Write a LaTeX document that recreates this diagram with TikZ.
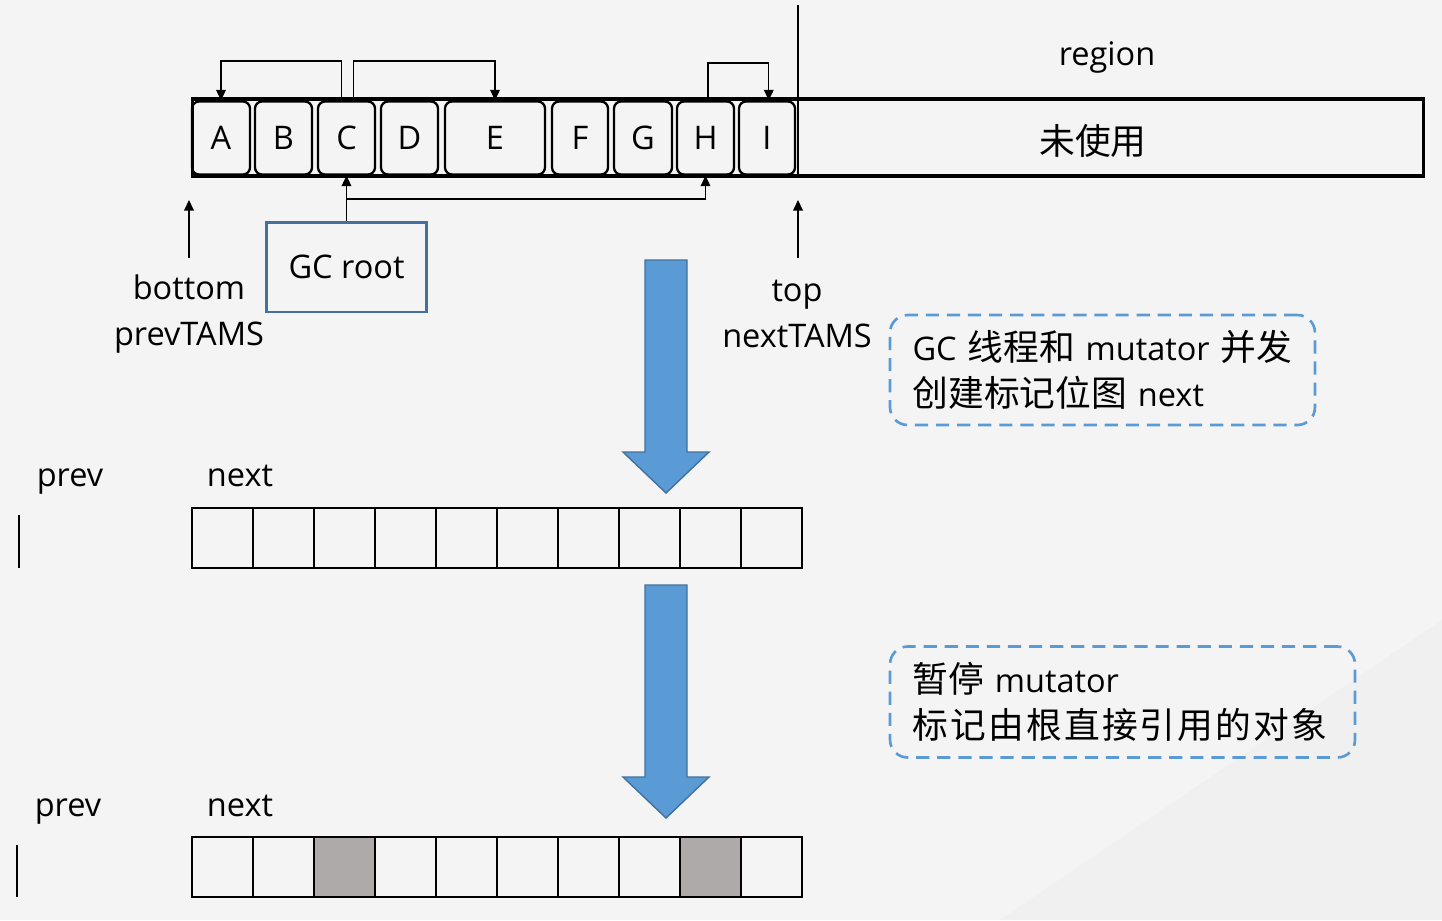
\documentclass[tikz,border=0pt]{standalone}
\usepackage{fontspec}
\setmainfont{Open Sans}
\newfontfamily\cjk[Scale=1.1]{Noto Sans CJK SC}
\newfontfamily\cjkwide[Scale=1.1, LetterSpace=6]{Noto Sans CJK SC}
\usetikzlibrary{positioning, calc, arrows.meta}

\definecolor{arrowblue}{HTML}{5B9BD5}
\definecolor{edgeblue}{HTML}{41719C}
\definecolor{markgray}{HTML}{AEAAAA}
\definecolor{bgpaper}{HTML}{F4F4F4}

\begin{document}
\begin{tikzpicture}[
    x=0.02cm, y=-0.02cm,
    % Styling
    base font/.style={font=\fontsize{18.5}{26}\selectfont},
    obj box/.style={
        draw,
        line width=1.3pt,
        rounded corners=4pt,
        minimum height=1.46cm,
        inner sep=0pt,
        base font
    },
    % Style for an empty bitmap cell
    bit cell/.style={
        draw,
        line width=1pt,
        minimum width=1.22cm,
        minimum height=1.2cm,
        inner sep=0pt
    },
    % Style for a marked bitmap cell
    bit marked/.style={
        bit cell,
        fill=markgray
    },
    ref arrow/.style={
        -{Triangle[length=6pt, width=5.5pt]},
        line width=0.8pt
    },
    note box/.style={
        draw=arrowblue,
        dash pattern=on 7.5pt off 4.5pt,
        line width=1.5pt,
        rounded corners=10pt,
        align=left,
        inner xsep=0.45cm,
        base font
    },
    big arrow/.style={
        fill=arrowblue,
        draw=edgeblue,
        line width=0.8pt
    }
]

% --- Background ---
\useasboundingbox (0,0) rectangle (1442,920);
\fill[bgpaper] (0,0) rectangle (1442,920);
\fill[black!6] (1000,920) -- (1442,620) -- (1442,920) -- cycle;

% --- The Region ---
\node[draw, line width=1.8pt, minimum width=24.64cm, minimum height=1.54cm, inner sep=0pt] (heap) at (808,137.5) {};
\node[base font, anchor=base] (region) at (1107,65) {region};
\node[base font] (unused) at (1093,141) {\cjk 未使用};
\draw[line width=1pt] (798,5) -- (798,176);

% Objects: Name / Center / Width
\foreach \name/\cx/\w in {A/221/58, B/283.5/57, C/346.5/57, D/409.5/57, E/495/100,
                          F/580/56, G/643/58, H/705.5/57, I/767/56} {
    \node[obj box, minimum width=\w*0.02cm] (\name) at (\cx,138) {\name};
}

% --- References between objects ---
\draw[ref arrow] ([xshift=-3pt]C.north) |- (A.north |- 0,61) -- (A.north);
\draw[ref arrow] ([xshift=4pt]C.north) |- (E.north |- 0,61) -- (E.north);
\draw[ref arrow] ([xshift=1.5pt]H.north) |- ([xshift=1pt]I.north |- 0,63) -- ([xshift=1pt]I.north);

% --- GC root ---
\node[draw=edgeblue, line width=1.7pt, minimum width=3.22cm, minimum height=1.8cm, base font] (root) at (346.5,267) {GC root};
\draw[ref arrow] (root.north) -- (C.south);
\draw[ref arrow] (root.north |- 0,199) -| (H.south);

% --- Pointers ---
\node[base font, align=center] (bot) at (189,314) {bottom\\prevTAMS};
\node[base font, align=center] (topptr) at (797,314) {top\\nextTAMS};
\draw[ref arrow] (bot.north |- 0,258) -- (bot.north |- 0,200);
\draw[ref arrow] (798,258) -- (798,200);

% --- Phase Arrows ---
\foreach \dy in {0, 325} {
    \draw[big arrow] (645,{260+\dy}) -- (687,{260+\dy}) -- (687,{452+\dy}) -- (709,{452+\dy})
        -- (666,{493+\dy}) -- (623,{452+\dy}) -- (645,{452+\dy}) -- cycle;
}

% --- Notes ---
\node[note box, text width=7.6cm, minimum height=2.2cm] (note1) at (1102.5,370)
    {GC {\cjk 线程和} mutator {\cjk 并发}\\{\cjk 创建标记位图} next};
\node[note box, text width=8.4cm, minimum height=2.22cm] (note2) at (1122.5,702)
    {{\cjk 暂停} mutator\\{\cjkwide 标记由根直接引用的对象}};

% --- Bitmaps ---
\node[base font, anchor=base] (prev1) at (70,486) {prev};
\node[base font, anchor=base] (next1) at (240,486) {next};
\draw[line width=1pt] (19,515) -- (19,568);

\node[base font, anchor=base] (prev2) at (68,816) {prev};
\node[base font, anchor=base] (next2) at (240,816) {next};
\draw[line width=1pt] (17,845) -- (17,897);

\foreach \i in {0,...,9} {
    \pgfmathsetmacro{\xCoord}{222.5 + 61*\i}
    \node[bit cell] (nbit1-\i) at (\xCoord,538) {};
    \ifnum\i=2
        \node[bit marked] (nbit2-\i) at (\xCoord,867) {};
    \else
        \ifnum\i=8
            \node[bit marked] (nbit2-\i) at (\xCoord,867) {};
        \else
            \node[bit cell] (nbit2-\i) at (\xCoord,867) {};
        \fi
    \fi
}

\end{tikzpicture}
\end{document}
